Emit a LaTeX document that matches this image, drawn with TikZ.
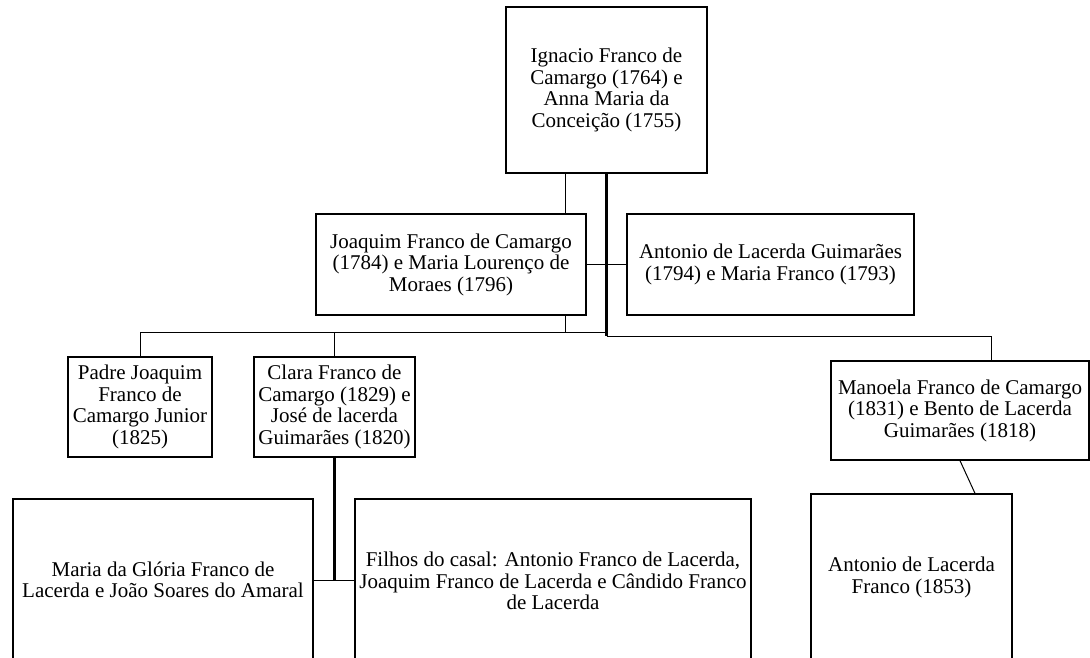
\documentclass[tikz,border=0pt]{standalone}
\usepackage{fontspec}
\setmainfont{Liberation Serif}
\usepackage{tikz}

\begin{document}
\begin{tikzpicture}[x=1pt,y=-1pt,
  box/.style={draw, line width=1.3pt, rectangle, inner sep=0pt, align=center,
    font=\fontsize{21}{21.5}\selectfont},
  link/.style={line width=1pt},
  trunkline/.style={line width=2.2pt}]
\useasboundingbox (0,0) rectangle (1090,658);
\clip (0,0) rectangle (1090,658);
\node[box, minimum width=201pt, minimum height=166pt] (ignacio) at (606.5,90)
  {Ignacio Franco de\\Camargo (1764) e\\Anna Maria da\\Conceição (1755)};
\node[box, minimum width=270pt, minimum height=101pt] (joaquim) at (451,264.5)
  {Joaquim Franco de Camargo\\(1784) e Maria Lourenço de\\Moraes (1796)};
\node[box, minimum width=287pt, minimum height=101pt] (antonio) at (770.5,264.5)
  {Antonio de Lacerda Guimarães\\(1794) e Maria Franco (1793)};
\node[box, minimum width=144pt, minimum height=100pt] (padre) at (140,407)
  {Padre Joaquim\\Franco de\\Camargo Junior\\(1825)};
\node[box, minimum width=161pt, minimum height=100pt] (clara) at (334.5,407)
  {Clara Franco de\\Camargo (1829) e\\José de lacerda\\Guimarães (1820)};
\node[box, minimum width=258pt, minimum height=99pt] (manoela) at (960,410.5)
  {Manoela Franco de Camargo\\(1831) e Bento de Lacerda\\Guimarães (1818)};
\node[box, minimum width=300pt, minimum height=162pt] (maria) at (163,580)
  {Maria da Glória Franco de\\Lacerda e João Soares do Amaral};
\node[box, minimum width=396pt, minimum height=164pt] (filhos) at (553,581)
  {Filhos do casal: Antonio Franco de Lacerda,\\Joaquim Franco de Lacerda e Cândido Franco\\de Lacerda};
\node[box, minimum width=201pt, minimum height=167pt] (antfranco) at (911.5,577.5)
  {Antonio de Lacerda\\Franco (1853)};
\coordinate (kids) at (0,332);
\coordinate (trunk) at (0,336);
\coordinate (jx) at (565,0);
\coordinate (mx) at (991,0);
\coordinate (ax) at (975,0);
\draw[link] (ignacio.south -| jx) -- (joaquim.north -| jx);
\draw[link] (joaquim.east) -- (antonio.west);
\draw[link] (joaquim.south -| jx) -- (jx |- kids);
\draw[link] (padre.north) |- (ignacio.south |- kids);
\draw[link] (clara.north) -- (clara.north |- kids);
\draw[trunkline] (ignacio.south) -- (ignacio.south |- trunk);
\draw[link] (ignacio.south |- trunk) -| (manoela.north -| mx);
\draw[trunkline] (clara.south) -- (clara.south |- maria.east);
\draw[link] (maria.east) -- (filhos.west |- maria.east);
\draw[link] (manoela.south) -- (antfranco.north -| ax);
\end{tikzpicture}
\end{document}
